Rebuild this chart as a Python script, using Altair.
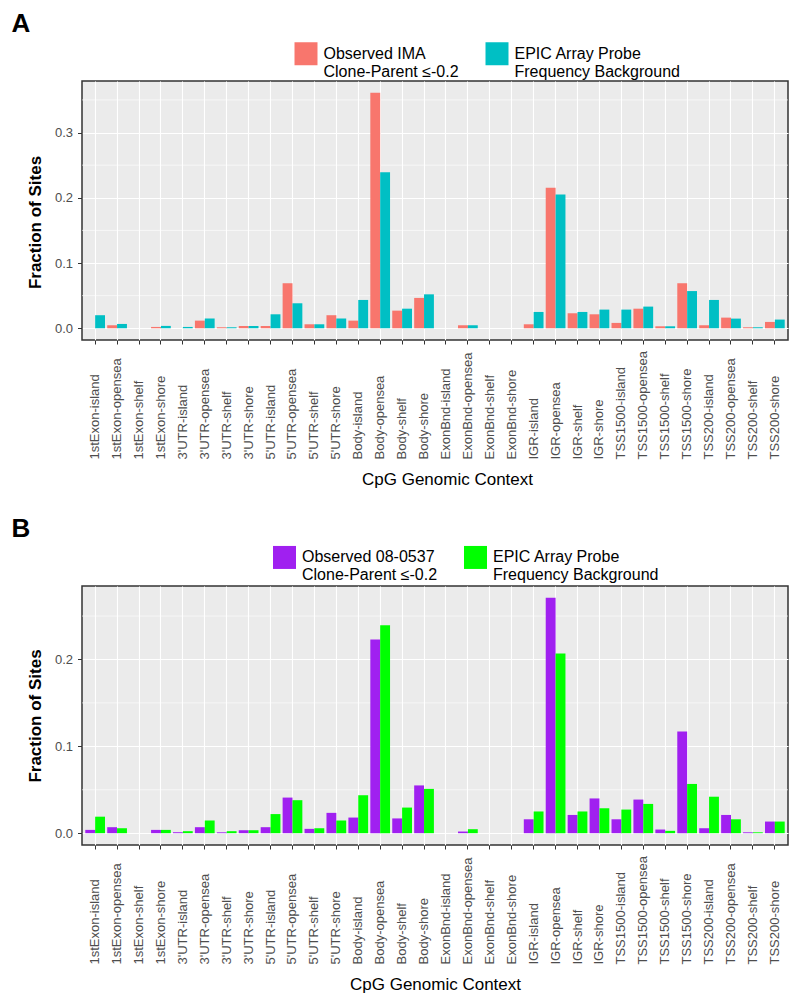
import altair as alt
import pandas as pd

categories = ["1stExon-island", "1stExon-opensea", "1stExon-shelf", "1stExon-shore",
              "3'UTR-island", "3'UTR-opensea", "3'UTR-shelf", "3'UTR-shore",
              "5'UTR-island", "5'UTR-opensea", "5'UTR-shelf", "5'UTR-shore",
              "Body-island", "Body-opensea", "Body-shelf", "Body-shore",
              "ExonBnd-island", "ExonBnd-opensea", "ExonBnd-shelf", "ExonBnd-shore",
              "IGR-island", "IGR-opensea", "IGR-shelf", "IGR-shore",
              "TSS1500-island", "TSS1500-opensea", "TSS1500-shelf", "TSS1500-shore",
              "TSS200-island", "TSS200-opensea", "TSS200-shelf", "TSS200-shore"]

# Panel A
ima_observed = [0, 0.0046, 0, 0.002, 0, 0.0117, 0.0015, 0.0035,
                0.0035, 0.069, 0.0061, 0.020, 0.0117, 0.361, 0.027, 0.0465,
                0, 0.0046, 0, 0, 0.0061, 0.2154, 0.023, 0.0214,
                0.0082, 0.030, 0.003, 0.069, 0.0046, 0.0163, 0.0015, 0.0097]
epic_background_a = [0.020, 0.0066, 0, 0.0036, 0.002, 0.0148, 0.0015, 0.0035,
                     0.0214, 0.0383, 0.0061, 0.0148, 0.0434, 0.239, 0.030, 0.052,
                     0, 0.0046, 0, 0, 0.025, 0.205, 0.025, 0.0286,
                     0.0286, 0.0332, 0.003, 0.057, 0.0434, 0.0148, 0.0015, 0.0133]

# Panel B
obs_0537 = [0.0038, 0.0069, 0, 0.0038, 0.0011, 0.0069, 0.001, 0.0034,
            0.0069, 0.041, 0.005, 0.0234, 0.018, 0.223, 0.017, 0.055,
            0, 0.0019, 0, 0, 0.016, 0.271, 0.021, 0.040,
            0.016, 0.0387, 0.0042, 0.117, 0.0057, 0.021, 0.001, 0.0134]
epic_background_b = [0.019, 0.0057, 0, 0.0038, 0.0023, 0.0146, 0.0023, 0.0034,
                     0.022, 0.038, 0.0057, 0.0146, 0.0437, 0.2395, 0.0295, 0.051,
                     0, 0.0046, 0, 0, 0.025, 0.207, 0.025, 0.0287,
                     0.0272, 0.0337, 0.0027, 0.0567, 0.042, 0.016, 0.001, 0.0134]

series_a = ["Observed IMA|Clone-Parent \u2264-0.2", "EPIC Array Probe|Frequency Background"]
series_b = ["Observed 08-0537|Clone-Parent \u2264-0.2", "EPIC Array Probe|Frequency Background "]
colors_a = ["#F8766D", "#00BFC4"]
colors_b = ["#A020F0", "#00FF00"]

y_domain_a = [-0.018, 0.379]
y_domain_b = [-0.0136, 0.2846]
major_a = [0.0, 0.1, 0.2, 0.3]
minor_a = [0.05, 0.15, 0.25, 0.35]
major_b = [0.0, 0.1, 0.2]
minor_b = [0.05, 0.15, 0.25]

W, H = 706, 259
FONT = "Liberation Sans"


def panel(letter, obs, bg, series, colors, ydom, major, minor, legx, legy,
          ytitle_y=None, xtitle_x=None):
    df = pd.DataFrame({
        "context": categories * 2,
        "series": [series[0]] * len(categories) + [series[1]] * len(categories),
        "value": list(obs) + list(bg),
    })
    yaxis_kw = dict(values=major, format=".1f", grid=True, gridColor="white",
                    gridWidth=1.1, domain=False, tickColor="#333333", tickSize=4.5,
                    labelPadding=5, labelFontSize=13, labelColor="#4D4D4D",
                    title="Fraction of Sites", titleFontSize=17,
                    titleFontWeight="bold", titleColor="black", titlePadding=10)
    if ytitle_y is not None:
        yaxis_kw["titleY"] = ytitle_y
    xaxis_kw = dict(title="CpG Genomic Context", labelAngle=270, labelAlign="left",
                    labelBaseline="middle", labelPadding=115, tickSize=4,
                    tickColor="#333333", domain=False, grid=True, gridColor="white",
                    gridWidth=1.1, bandPosition=0.5, labelFontSize=13,
                    labelColor="#4D4D4D", titleFontSize=17, titleFontWeight="normal",
                    titleColor="black", titlePadding=12)
    if xtitle_x is not None:
        xaxis_kw["titleX"] = xtitle_x
    yenc = alt.Y("value:Q", scale=alt.Scale(domain=ydom, nice=False, zero=False),
                 axis=alt.Axis(**yaxis_kw))
    xenc = alt.X("context:N", sort=categories,
                 scale=alt.Scale(paddingInner=0.1, paddingOuter=0.15),
                 axis=alt.Axis(**xaxis_kw))
    grid = alt.Chart(pd.DataFrame({"value": minor})).mark_rule(
        color="white", strokeWidth=0.6).encode(y=yenc)
    bars = alt.Chart(df).mark_bar().encode(
        x=xenc,
        xOffset=alt.XOffset("series:N", sort=series,
                            scale=alt.Scale(paddingInner=0, paddingOuter=0)),
        y=yenc,
        y2=alt.datum(0),
        color=alt.Color("series:N", sort=series,
                        scale=alt.Scale(domain=series, range=colors),
                        legend=alt.Legend(orient="none", legendX=legx, legendY=legy,
                                          direction="horizontal", title=None,
                                          symbolType="square", symbolSize=529,
                                          symbolStrokeWidth=0, labelFontSize=16,
                                          labelColor="black", labelLimit=0,
                                          labelOffset=6, columnPadding=26,
                                          labelExpr="split(datum.label, '|')")),
    )
    tag = alt.Chart(pd.DataFrame({"t": [letter]})).mark_text(
        fontSize=26, fontWeight="bold", align="left", baseline="top",
        color="black", font=FONT).encode(
        x=alt.value(-70.5), y=alt.value(-70), text="t:N")
    return alt.layer(grid, bars, tag).properties(width=W, height=H)


pa = panel("A", ima_observed, epic_background_a, series_a, colors_a,
           y_domain_a, major_a, minor_a, 212.5, -39, ytitle_y=141, xtitle_x=365)
pb = panel("B", obs_0537, epic_background_b, series_b, colors_b,
           y_domain_b, major_b, minor_b, 191, -40.3)

chart = alt.vconcat(pa, pb, spacing=27).resolve_scale(
    x="independent", y="independent", color="independent", xOffset="independent"
).properties(padding={"left": 2, "top": 2, "right": 0, "bottom": 0}).configure(
    font=FONT
).configure_view(fill="#EBEBEB", stroke="#333333", strokeWidth=1.5)

chart.save("out.html", embed_options={"renderer": "svg", "actions": False})
